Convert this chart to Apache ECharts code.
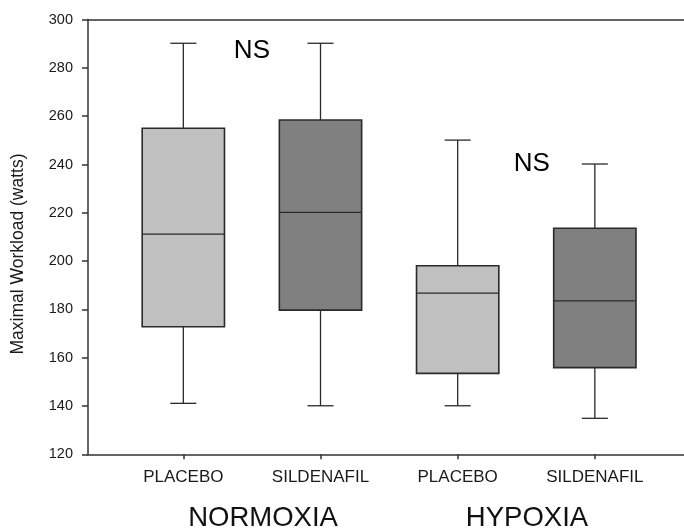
<!DOCTYPE html>
<html>
<head>
<meta charset="utf-8">
<script src="https://cdn.jsdelivr.net/npm/echarts@6/dist/echarts.min.js"></script>
<style>html,body{margin:0;padding:0;background:#fff;}#c{width:684px;height:531px;}</style>
</head>
<body>
<div id="c"></div>
<script>
// ---- data ----
const treatments = ['PLACEBO', 'SILDENAFIL', 'PLACEBO', 'SILDENAFIL'];
const groups = ['NORMOXIA', 'HYPOXIA'];
const positions = [1, 2, 3, 4];
const whiskerLow = [141.1, 140.1, 140.1, 134.9];
const q1 = [172.8, 179.7, 153.5, 155.9];
const median = [211.2, 220.2, 186.7, 183.5];
const q3 = [255.0, 258.4, 198.1, 213.6];
const whiskerHigh = [290.2, 290.2, 250.1, 240.2];
const yTicks = [120, 140, 160, 180, 200, 220, 240, 260, 280, 300];
const nsX = [1.5, 3.54];
const nsY = [287.2, 240.3];
const nsText = ['NS', 'NS'];
const yTitle = 'Maximal Workload (watts)';

// ---- styles ----
const FONT = "'Liberation Sans', Arial, sans-serif";
const fills = ['#c0c0c0', '#808080', '#c0c0c0', '#808080'];
const BOX_HALF = 0.3;
const CAP_HALF = 0.095;

const boxData = positions.map((p, i) => [p, whiskerLow[i], q1[i], median[i], q3[i], whiskerHigh[i]]);
const nsData = nsX.map((x, i) => [x, nsY[i], nsText[i]]);

const chart = echarts.init(document.getElementById('c'), null, {renderer: 'canvas'});

function renderBox(params, api) {
  const x = api.value(0);
  const lo = api.value(1), a = api.value(2), m = api.value(3), b = api.value(4), hi = api.value(5);
  const cx = api.coord([x, lo])[0];
  const xl = api.coord([x - BOX_HALF, lo])[0];
  const xr = api.coord([x + BOX_HALF, lo])[0];
  const cl = api.coord([x - CAP_HALF, lo])[0];
  const cr = api.coord([x + CAP_HALF, lo])[0];
  const yLo = api.coord([x, lo])[1];
  const yA = api.coord([x, a])[1];
  const yM = api.coord([x, m])[1];
  const yB = api.coord([x, b])[1];
  const yHi = api.coord([x, hi])[1];
  const lineStyle = {stroke: '#2a2a2a', lineWidth: 1.3, fill: null};
  return {
    type: 'group',
    children: [
      {type: 'line', shape: {x1: cx, y1: yHi, x2: cx, y2: yB}, style: lineStyle},
      {type: 'line', shape: {x1: cx, y1: yA, x2: cx, y2: yLo}, style: lineStyle},
      {type: 'line', shape: {x1: cl, y1: yHi, x2: cr, y2: yHi}, style: lineStyle},
      {type: 'line', shape: {x1: cl, y1: yLo, x2: cr, y2: yLo}, style: lineStyle},
      {type: 'rect', shape: {x: xl, y: yB, width: xr - xl, height: yA - yB},
        style: {fill: fills[params.dataIndex], stroke: '#2a2a2a', lineWidth: 1.6}},
      {type: 'line', shape: {x1: xl, y1: yM, x2: xr, y2: yM}, style: {stroke: '#2a2a2a', lineWidth: 1.3}}
    ]
  };
}

const axisLineStyle = {color: '#333', width: 1.5};

chart.setOption({
  animation: false,
  backgroundColor: '#fff',
  grid: {left: 88, right: 0, top: 19.6, bottom: 76.7, containLabel: false, outerBoundsMode: 'none'},
  xAxis: [
    {
      type: 'value', min: 0.305, max: 4.65, position: 'bottom',
      splitLine: {show: false},
      axisLine: {show: true, lineStyle: axisLineStyle},
      axisTick: {show: true, length: 5, customValues: positions, lineStyle: axisLineStyle},
      axisLabel: {
        show: true, customValues: positions, margin: 15,
        fontFamily: FONT, fontSize: 17, color: '#1a1a1a',
        formatter: function (v) { return treatments[positions.indexOf(Math.round(v))] || ''; }
      }
    },
    {
      type: 'value', min: 0.305, max: 4.65, position: 'top',
      splitLine: {show: false},
      axisLine: {show: true, lineStyle: axisLineStyle},
      axisTick: {show: false}, axisLabel: {show: false}
    }
  ],
  yAxis: {
    type: 'value', min: yTicks[0], max: yTicks[yTicks.length - 1], interval: 20,
    splitLine: {show: false},
    axisLine: {show: true, lineStyle: axisLineStyle},
    axisTick: {show: true, length: 6, lineStyle: axisLineStyle},
    axisLabel: {margin: 15, fontFamily: FONT, fontSize: 14.5, color: '#1a1a1a'}
  },
  series: [
    {
      type: 'custom', xAxisIndex: 0, renderItem: renderBox, data: boxData,
      encode: {x: 0, y: [1, 2, 3, 4, 5]}, clip: false
    },
    {
      type: 'scatter', xAxisIndex: 0, data: nsData, symbolSize: 0,
      itemStyle: {opacity: 1},
      label: {show: true, position: 'inside', formatter: p => p.data[2],
        fontFamily: FONT, fontSize: 26, color: '#000', opacity: 1,
        textBorderWidth: 0},
      silent: true
    }
  ],
  graphic: [
    {type: 'text', x: 18, y: 254, rotation: Math.PI / 2,
      style: {text: yTitle, font: "17.5px 'Liberation Sans', Arial, sans-serif", fill: '#1a1a1a', align: 'center', verticalAlign: 'middle'}},
    {type: 'text', x: 263, y: 518,
      style: {text: groups[0], font: "27.5px 'Liberation Sans', Arial, sans-serif", fill: '#111', align: 'center', verticalAlign: 'middle'}},
    {type: 'text', x: 527, y: 518,
      style: {text: groups[1], font: "27.5px 'Liberation Sans', Arial, sans-serif", fill: '#111', align: 'center', verticalAlign: 'middle'}}
  ]
});
</script>
</body>
</html>
